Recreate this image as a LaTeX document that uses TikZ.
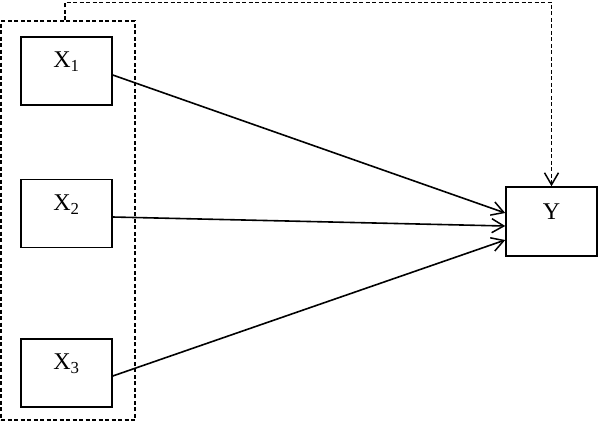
\documentclass[tikz,border=0pt]{standalone}
\usepackage{fontspec}
\setmainfont{Liberation Serif}
\usetikzlibrary{arrows.meta}
\begin{document}
\begin{tikzpicture}[x=1pt,y=1pt,
  box/.style={draw,line width=1.5pt,rectangle,minimum width=91pt,minimum height=68pt,inner sep=0pt},
  lbl/.style={font=\fontsize{24}{28}\selectfont,inner sep=0pt},
  dashbox/.style={draw,line width=1.5pt,dash pattern=on 4pt off 2.5pt,rectangle,minimum width=134pt,minimum height=399pt,inner sep=0pt},
  conn/.style={line width=1.6pt,-{Straight Barb[length=12pt,width=14pt,line width=1.5pt]}},
  fb/.style={line width=1.5pt,dash pattern=on 4pt off 2.5pt,-{Straight Barb[length=12pt,width=14pt,line width=1.5pt]}}]
\useasboundingbox (0,0) rectangle (598,-424);
\node[dashbox] (outer) at (68,-220.5) {};
\node[box] (x1) at (66.5,-71) {};
\node[box] (x2) at (66.5,-213.5) {};
\node[box] (x3) at (66.5,-373) {};
\node[box,minimum width=91pt,minimum height=69pt] (y) at (551.5,-221.5) {};
\node[lbl] (t1) at ([yshift=9pt]x1.center) {X\textsubscript{1}};
\node[lbl] (t2) at ([yshift=9pt]x2.center) {X\textsubscript{2}};
\node[lbl] (t3) at ([yshift=9pt]x3.center) {X\textsubscript{3}};
\node[lbl] (ty) at ([yshift=10pt]y.center) {Y};
\draw[conn] ([yshift=-4pt]x1.east) -- ([yshift=8.5pt]y.west);
\draw[conn] ([yshift=-3.5pt]x2.east) -- ([yshift=-4.5pt]y.west);
\draw[conn] ([yshift=-3pt]x3.east) -- ([yshift=-18.5pt]y.west);
\draw[fb] ([xshift=-3pt]outer.north) -- ++(0,18) -| (y.north);
\end{tikzpicture}
\end{document}
